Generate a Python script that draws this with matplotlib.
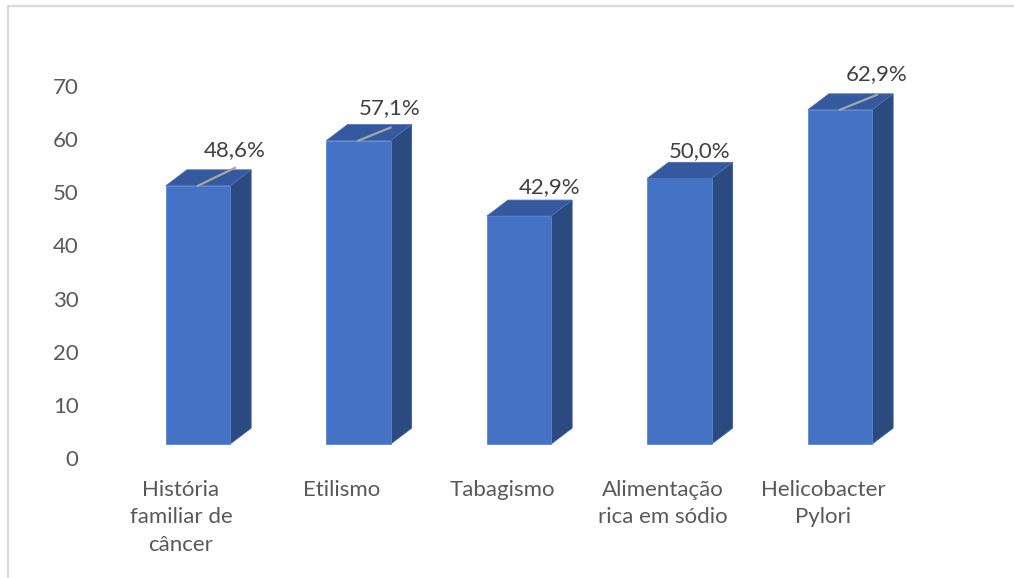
import matplotlib
matplotlib.use("Agg")
import matplotlib.pyplot as plt
from matplotlib.patches import Polygon, Rectangle
from matplotlib.lines import Line2D

plt.rcParams['font.family'] = ['Lato', 'DejaVu Sans']

categories = ["História\nfamiliar de\ncâncer", "Etilismo", "Tabagismo",
              "Alimentação\nrica em sódio", "Helicobacter\nPylori"]
values = [48.6, 57.1, 42.9, 50.0, 62.9]
value_labels = ["48,6%", "57,1%", "42,9%", "50,0%", "62,9%"]
yticks = [0, 10, 20, 30, 40, 50, 60, 70]

W, H = 1014, 578
fig = plt.figure(figsize=(W / 100, H / 100), dpi=100)
ax = fig.add_axes([100.75 / W, (H - 458) / H, 802.5 / W, 372 / H])
ax.set_xlim(-0.5, 4.5)
ax.set_ylim(0, 70)
for s in ax.spines.values():
    s.set_visible(False)

tc = '#595959'
ax.set_yticks(yticks)
ax.set_yticklabels([str(t) for t in yticks], fontsize=16, color=tc)
ax.set_xticks(range(len(categories)))
ax.set_xticklabels(categories, fontsize=16, color=tc, linespacing=1.45, va='top')
ax.tick_params(axis='y', length=0, pad=16)
ax.tick_params(axis='x', length=0, pad=16)

# 3D styling (in data units)
shift = 0.106      # front face horizontal shift
hw = 0.2           # half width of front face
ddx = 0.131        # depth offset x
ddy = 3.0          # depth offset y
base = 2.63        # front face baseline

front_c = '#4472C4'
top_c = '#34599E'
side_c = '#2A4A80'

# label offsets (pixels): (dx, dy) of label centre from front-top centre
lab_off = [(37, 36), (31, 32), (31, 29), (20, 27), (37, 36)]
leader = [(37, 18), (32, 13), None, None, (37, 15)]
pxx = 160.5
pxy = 372 / 70

for i, v in enumerate(values):
    cx = i + shift
    x0, x1 = cx - hw, cx + hw
    y0, y1 = base, base + v
    front = Polygon([(x0, y0), (x1, y0), (x1, y1), (x0, y1)], closed=True,
                    facecolor=front_c, edgecolor='#5A86D4', lw=0.6, zorder=3)
    top = Polygon([(x0, y1), (x1, y1), (x1 + ddx, y1 + ddy), (x0 + ddx, y1 + ddy)],
                  closed=True, facecolor=top_c, edgecolor='#4A6FB5', lw=0.6, zorder=3)
    side = Polygon([(x1, y0), (x1 + ddx, y0 + ddy), (x1 + ddx, y1 + ddy), (x1, y1)],
                   closed=True, facecolor=side_c, edgecolor='#3C5E9C', lw=0.6, zorder=2)
    for p in (side, front, top):
        ax.add_patch(p)
    lx = cx + lab_off[i][0] / pxx
    ly = y1 + lab_off[i][1] / pxy
    ax.text(lx, ly, value_labels[i], ha='center', va='center', fontsize=16,
            color='#404040', zorder=5)
    if leader[i] is not None:
        ax.add_line(Line2D([cx, cx + leader[i][0] / pxx],
                           [y1, y1 + leader[i][1] / pxy],
                           color='#A6A6A6', lw=1.6, zorder=4))

# chart area border (light gray, partially cropped)
fig.add_artist(Rectangle((8 / W, -0.1), 1.2, (H - 6) / H + 0.1,
                         transform=fig.transFigure, fill=False,
                         edgecolor='#D9D9D9', lw=1.6))

fig.savefig('out.png', dpi=100)
